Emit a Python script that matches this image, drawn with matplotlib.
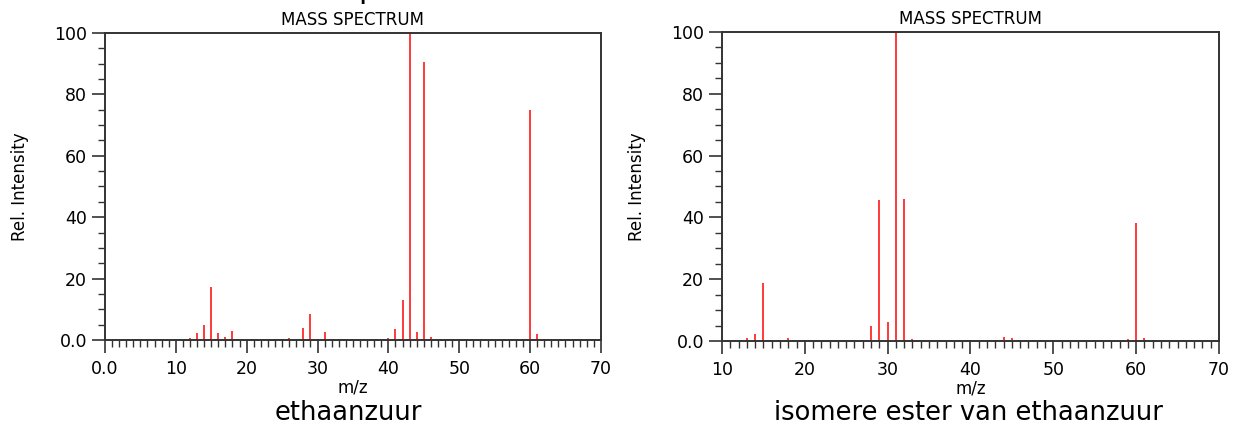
import matplotlib
matplotlib.use("Agg")
import matplotlib.pyplot as plt
from matplotlib.ticker import MultipleLocator, FuncFormatter

# ethaanzuur (left spectrum)
mz_acid = [12, 13, 14, 15, 16, 17, 18, 24, 25, 26, 28, 29, 30, 31,
           40, 41, 42, 43, 44, 45, 46, 47, 60, 61, 62]
int_acid = [0.6, 2.2, 4.9, 17.1, 2.4, 1.1, 2.8, 0.2, 0.4, 0.5, 4.0, 8.5, 0.4, 2.5,
            0.8, 3.5, 13.0, 100.0, 2.5, 90.4, 1.1, 0.2, 74.8, 1.9, 0.3]

# isomere ester (methylmethanoaat), right spectrum
mz_ester = [12, 13, 14, 15, 16, 17, 18, 28, 29, 30, 31, 32, 33,
            42, 43, 44, 45, 46, 59, 60, 61, 62]
int_ester = [0.4, 0.9, 2.1, 18.8, 0.3, 0.3, 1.0, 4.9, 45.5, 6.1, 100.0, 45.8, 0.8,
             0.2, 0.4, 1.4, 1.0, 0.2, 0.6, 38.1, 1.0, 0.2]

names = ["ethaanzuur", "isomere ester van ethaanzuur"]
xranges = [(0, 70), (10, 70)]

plt.rcParams['font.family'] = ['DejaVu Sans']

fig = plt.figure(figsize=(12.39, 4.33), dpi=100)
ax_left = fig.add_axes([0.0847, 0.2148, 0.4003, 0.709])
ax_right = fig.add_axes([0.5827, 0.2125, 0.4011, 0.7136])

spine_col = "#333333"


def zero_fmt(v, pos):
    if abs(v) < 1e-9:
        return "0.0"
    return "%d" % v


for ax, mz, inten, xr in [(ax_left, mz_acid, int_acid, xranges[0]),
                          (ax_right, mz_ester, int_ester, xranges[1])]:
    ax.vlines(mz, 0, inten, color="#ff2a2a", linewidth=1.3)
    ax.set_xlim(*xr)
    ax.set_ylim(0, 100)
    ax.xaxis.set_major_locator(MultipleLocator(10))
    ax.xaxis.set_minor_locator(MultipleLocator(1))
    ax.yaxis.set_major_locator(MultipleLocator(20))
    ax.yaxis.set_minor_locator(MultipleLocator(5))
    ax.xaxis.set_major_formatter(FuncFormatter(zero_fmt))
    ax.yaxis.set_major_formatter(FuncFormatter(zero_fmt))
    for sp in ax.spines.values():
        sp.set_color(spine_col)
        sp.set_linewidth(1.4)
    ax.tick_params(axis="both", which="major", direction="out", length=9.5, width=1.2,
                   color=spine_col, labelsize=12.5)
    ax.tick_params(axis="both", which="minor", direction="out", length=4.7, width=1.0,
                   color=spine_col)
    ax.tick_params(axis="x", which="major", pad=5)
    ax.tick_params(axis="y", which="major", pad=3.5)
    ax.set_title("MASS SPECTRUM", fontsize=12, pad=6)
    ax.set_xlabel("m/z", fontsize=12, labelpad=0)
    ax.set_ylabel("Rel. Intensity", fontsize=12, labelpad=18)

fig.text(0.281, 0.046, names[0], ha="center", va="center", fontsize=18.5)
fig.text(0.782, 0.046, names[1], ha="center", va="center", fontsize=18.5)

# afgesneden kop bovenaan (alleen staart van de letter zichtbaar)
fig.text(0.289, 1.004, "p", ha="left", va="baseline", fontsize=22)

fig.savefig("out.png", dpi=100)
